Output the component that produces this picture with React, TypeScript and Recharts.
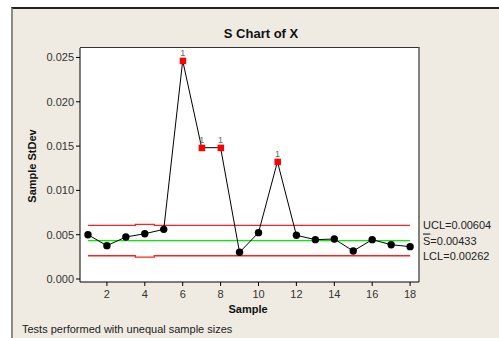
import React from 'react';
import { ComposedChart, Line, XAxis, YAxis, ReferenceLine } from 'recharts';

// ---- data ----
const samples = [1, 2, 3, 4, 5, 6, 7, 8, 9, 10, 11, 12, 13, 14, 15, 16, 17, 18];
const stdevs = [0.0050, 0.00376, 0.00474, 0.00511, 0.0056, 0.02464, 0.01482, 0.01482, 0.00301, 0.00523,
  0.01324, 0.00493, 0.00444, 0.00451, 0.00316, 0.00444, 0.00387, 0.00365];
// per-sample control limits (sample 4 has a different subgroup size)
const uclBySample = [0.00604, 0.00604, 0.00604, 0.00617, 0.00604, 0.00604, 0.00604, 0.00604, 0.00604,
  0.00604, 0.00604, 0.00604, 0.00604, 0.00604, 0.00604, 0.00604, 0.00604, 0.00604];
const lclBySample = [0.00262, 0.00262, 0.00262, 0.00246, 0.00262, 0.00262, 0.00262, 0.00262, 0.00262,
  0.00262, 0.00262, 0.00262, 0.00262, 0.00262, 0.00262, 0.00262, 0.00262, 0.00262];
const failedTest1 = [6, 7, 8, 11];
const UCL = 0.00604;
const SBAR = 0.00433;
const LCL = 0.00262;
const yTicks = [0, 0.005, 0.01, 0.015, 0.02, 0.025];
const xTicks = [2, 4, 6, 8, 10, 12, 14, 16, 18];

const data = samples.map((s, i) => ({
  sample: s,
  s: stdevs[i],
  ucl: uclBySample[i],
  lcl: lclBySample[i],
  center: SBAR,
  flagged: failedTest1.includes(s),
}));

const FONT = '"Liberation Sans", Arial, sans-serif';

const Dot = (props: any) => {
  const { cx, cy, payload, index } = props;
  if (cx == null || cy == null) return <g key={`d${index}`} />;
  if (payload.flagged) {
    return (
      <g key={`d${index}`}>
        <rect x={cx - 3} y={cy - 3} width={6.5} height={6.5} fill="#ff0000" />
        <text x={cx} y={cy - 5} textAnchor="middle" fontSize={9} fill="#666" fontFamily={FONT}>1</text>
      </g>
    );
  }
  return <circle key={`d${index}`} cx={cx} cy={cy} r={3.7} fill="#000" />;
};

const LimitLabel = (props: any) => {
  const { viewBox, name, value } = props;
  const x = viewBox.x + viewBox.width + 4;
  const y = viewBox.y;
  return (
    <text x={x} y={y} dy="0.355em" fontSize={11} fill="#222" fontFamily={FONT}>
      {name === 'S' ? <tspan textDecoration="overline">S</tspan> : <tspan>{name}</tspan>}
      <tspan>={value.toFixed(5)}</tspan>
    </text>
  );
};

export default function App() {
  return (
    <div style={{ position: 'absolute', left: 0, top: 0, width: 499, height: 338, background: '#fff', overflow: 'hidden', fontFamily: FONT }}>
      <div style={{ position: 'absolute', left: 11, top: 7, width: 488, height: 331, boxSizing: 'border-box', background: '#EFEBE2', borderLeft: '2px solid #8a8a8a', borderTop: '2px solid #222' }} />
      <div style={{ position: 'absolute', left: 80, top: 47, width: 340, height: 235, boxSizing: 'border-box', background: '#fff', borderTop: '1px solid #333', borderRight: '2px solid #808080' }} />
      <div style={{ position: 'absolute', left: 261, top: 33, transform: 'translate(-50%,-50%)', fontWeight: 'bold', fontSize: 13, color: '#111', whiteSpace: 'nowrap' }}>S Chart of X</div>
      <div style={{ position: 'absolute', left: 32, top: 166, transform: 'translate(-50%,-50%) rotate(-90deg)', fontWeight: 'bold', fontSize: 11, color: '#111', whiteSpace: 'nowrap' }}>Sample StDev</div>
      <div style={{ position: 'absolute', left: 248, top: 309, transform: 'translate(-50%,-50%)', fontWeight: 'bold', fontSize: 11, color: '#111', whiteSpace: 'nowrap' }}>Sample</div>
      <div style={{ position: 'absolute', left: 22, top: 329, transform: 'translateY(-50%)', fontSize: 11, color: '#222', whiteSpace: 'nowrap' }}>Tests performed with unequal sample sizes</div>
      <div style={{ position: 'absolute', left: 0, top: 0 }}>
        <ComposedChart width={499} height={338} data={data} margin={{ top: 48, right: 80, bottom: 26, left: 0 }} style={{ fontFamily: FONT }}>
          <XAxis dataKey="sample" type="number" domain={[0.58, 18.47]} ticks={xTicks} allowDataOverflow
            height={30} tickSize={4} tickMargin={4}
            tick={{ fill: '#333', fontSize: 11 }} axisLine={{ stroke: '#000' }} tickLine={{ stroke: '#000' }} />
          <YAxis type="number" domain={[-0.00034, 0.02607]} ticks={yTicks} allowDataOverflow width={80}
            tickFormatter={(v: number) => v.toFixed(3)} tickSize={4} tickMargin={2}
            tick={{ fill: '#333', fontSize: 11 }} axisLine={{ stroke: '#000' }} tickLine={{ stroke: '#000' }} />
          <Line dataKey="ucl" type="step" stroke="#ff2020" strokeWidth={1.3} dot={false} activeDot={false} isAnimationActive={false} />
          <Line dataKey="lcl" type="step" stroke="#ff2020" strokeWidth={1.3} dot={false} activeDot={false} isAnimationActive={false} />
          <Line dataKey="center" type="linear" stroke="#00ee00" strokeWidth={1.3} dot={false} activeDot={false} isAnimationActive={false} />
          <Line dataKey="s" type="linear" stroke="#000" strokeWidth={1} dot={Dot} activeDot={false} isAnimationActive={false} />
          <ReferenceLine y={UCL} stroke="none" strokeOpacity={0} label={<LimitLabel name="UCL" value={UCL} />} />
          <ReferenceLine y={SBAR} stroke="none" strokeOpacity={0} label={<LimitLabel name="S" value={SBAR} />} />
          <ReferenceLine y={LCL} stroke="none" strokeOpacity={0} label={<LimitLabel name="LCL" value={LCL} />} />
        </ComposedChart>
      </div>
    </div>
  );
}
